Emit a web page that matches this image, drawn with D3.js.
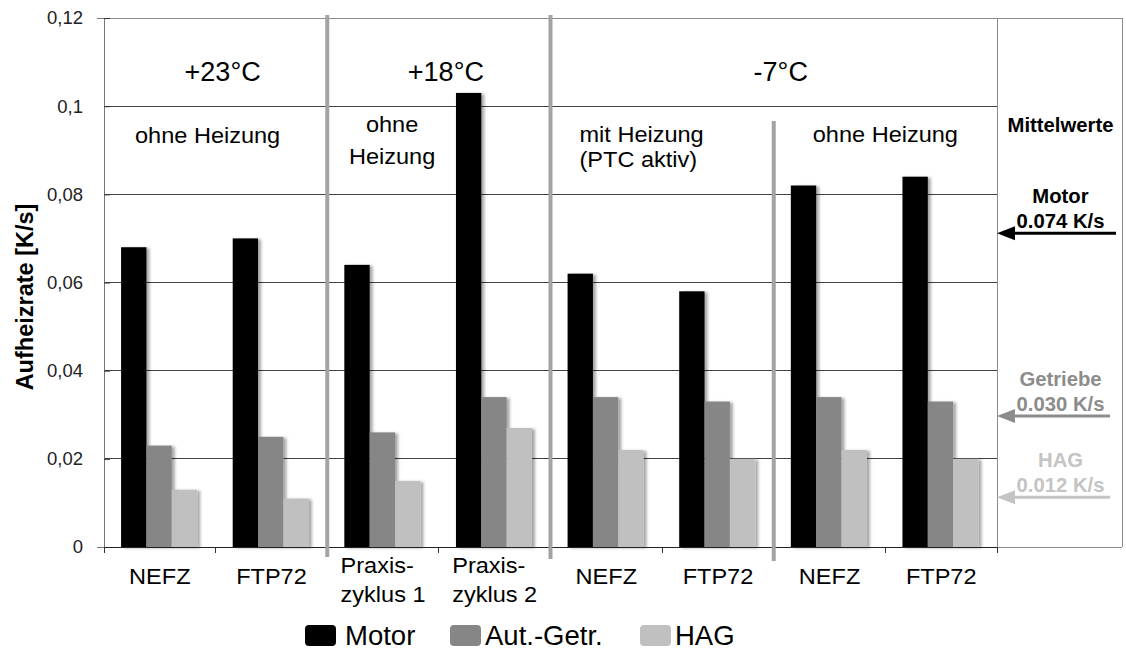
<!DOCTYPE html>
<html><head><meta charset="utf-8">
<script src="https://cdn.jsdelivr.net/npm/d3@7"></script>
<style>body{margin:0;background:#fff}svg{display:block}text{font-family:"Liberation Sans",Arial,sans-serif}</style>
</head><body><svg id="c" width="1126" height="650"></svg>
<script>
// ---- data ----
const categories = [["NEFZ"],["FTP72"],["Praxis-","zyklus 1"],["Praxis-","zyklus 2"],["NEFZ"],["FTP72"],["NEFZ"],["FTP72"]];
const seriesNames = ["Motor","Aut.-Getr.","HAG"];
const motor   = [0.068,0.070,0.064,0.103,0.062,0.058,0.082,0.084];
const autGetr = [0.023,0.025,0.026,0.034,0.034,0.033,0.034,0.033];
const hag     = [0.013,0.011,0.015,0.027,0.022,0.020,0.022,0.020];
const yTicks = [0,0.02,0.04,0.06,0.08,0.1,0.12];
const yTickLabels = ["0","0,02","0,04","0,06","0,08","0,1","0,12"];
const tempLabels = ["+23°C","+18°C","-7°C"];
const tempSpans = [[0,2],[2,4],[4,8]];
const meanNames = ["Motor","Getriebe","HAG"];
const meanValues = ["0.074 K/s","0.030 K/s","0.012 K/s"];
const meanArrowAt = [0.0712,0.0297,0.0113];

const seriesColors = ["#000000","#868686","#c0c0c0"];
const meanColors = ["#000000","#8c8c8c","#c4c4c4"];
const series = [motor, autGetr, hag];

const svg = d3.select("#c");
const FF = '"Liberation Sans",Arial,sans-serif';
const L = 104, R = 997, T = 18, B = 547, BOXR = 1122;

const x = d3.scaleBand().domain(d3.range(categories.length)).range([L, R]).padding(0);
const bw = x.bandwidth();
const x1 = d3.scaleBand().domain(d3.range(series.length)).range([0.153*bw, 0.834*bw]).padding(0);
const y = d3.scaleLinear().domain([0, 0.12]).range([B, T]);

const defs = svg.append("defs");
const f = defs.append("filter").attr("id","sh").attr("x","-20%").attr("y","-5%").attr("width","160%").attr("height","110%");
f.append("feDropShadow").attr("dx",3).attr("dy",1).attr("stdDeviation",1.6).attr("flood-color","#000").attr("flood-opacity",0.35);

function txt(g, xx, yy, s, size, opt={}) {
  const sx = opt.sx || 1.07;
  return g.append("text")
    .attr("transform", `translate(${xx},${yy}) scale(${sx},1)`)
    .attr("text-anchor", opt.anchor || "middle")
    .attr("font-size", size)
    .attr("font-weight", opt.bold ? "bold" : "normal")
    .attr("fill", opt.fill || "#000")
    .text(s);
}

// gridlines
svg.append("g").selectAll("line").data(yTicks.filter(d => d > 0)).join("line")
  .attr("x1", L).attr("x2", d => d === 0.12 ? BOXR : R)
  .attr("y1", d => y(d)).attr("y2", d => y(d))
  .attr("stroke", d => d === 0.12 ? "#8c8c8c" : "#404040").attr("stroke-width", 1).attr("shape-rendering","crispEdges");

// right box
svg.append("line").attr("x1",R).attr("x2",R).attr("y1",T).attr("y2",B).attr("stroke","#8c8c8c").attr("shape-rendering","crispEdges");
svg.append("line").attr("x1",BOXR).attr("x2",BOXR).attr("y1",T).attr("y2",B).attr("stroke","#8c8c8c").attr("shape-rendering","crispEdges");
svg.append("line").attr("x1",R).attr("x2",BOXR).attr("y1",B).attr("y2",B).attr("stroke","#8c8c8c").attr("shape-rendering","crispEdges");

// bars
const gb = svg.append("g");
series.forEach((vals, si) => {
  gb.append("g").selectAll("rect").data(vals).join("rect")
    .attr("x", (d,i) => x(i) + x1(si))
    .attr("y", d => y(d))
    .attr("width", x1.bandwidth())
    .attr("height", d => y(0) - y(d))
    .attr("fill", seriesColors[si])
    .attr("filter","url(#sh)");
});

// y axis
const ya = svg.append("g").attr("transform", `translate(${L},0)`)
  .call(d3.axisLeft(y).tickValues(yTicks).tickFormat((d,i) => yTickLabels[i]).tickSize(7).tickPadding(14));
ya.select(".domain").attr("stroke","#777");
ya.selectAll(".tick line").attr("stroke","#333").attr("x2", 6);
ya.selectAll(".tick text").attr("font-size", 18.5).attr("font-family", FF).attr("fill","#222");

// x axis
const xa = svg.append("g").attr("transform", `translate(0,${B})`)
  .call(d3.axisBottom(x).tickValues([]).tickSizeOuter(0));
xa.select(".domain").attr("stroke","#222");
svg.append("g").selectAll("line").data(d3.range(categories.length + 1)).join("line")
  .attr("x1", i => i < categories.length ? x(i) : R).attr("x2", i => i < categories.length ? x(i) : R)
  .attr("y1", B).attr("y2", B + 6).attr("stroke","#333").attr("shape-rendering","crispEdges");

// x labels (multi-line: block centered, lines left aligned)
const gx = svg.append("g");
categories.forEach((lines, i) => {
  const cx = x(i) + bw/2;
  if (lines.length === 1) {
    txt(gx, cx, 584, lines[0], 22);
  } else {
    const ts = lines.map((s, k) => txt(gx, 0, 0, s, 22, {anchor:"start"}));
    const w = d3.max(ts, t => t.node().getComputedTextLength()) * 1.07;
    ts.forEach((t, k) => t.attr("transform", `translate(${cx - w/2},${573 + k*29}) scale(1.07,1)`));
  }
});

// separators
const sep = [[2, 15, 557], [4, 15, 559], [6, 121, 561]];
svg.append("g").selectAll("line").data(sep).join("line")
  .attr("x1", d => x(d[0])).attr("x2", d => x(d[0]))
  .attr("y1", d => d[1]).attr("y2", d => d[2])
  .attr("stroke","#a3a3a3").attr("stroke-width",4);

// headers
const gh = svg.append("g");
tempLabels.forEach((t, i) => {
  const [a, b] = tempSpans[i];
  const cx = (x(a) + (b < categories.length ? x(b) : R)) / 2 + 7;
  txt(gh, cx, 81, t, 27, {sx:1.0});
});
txt(gh, x(0) + bw - 8, 143, "ohne Heizung", 22);
txt(gh, x(2) + bw/2 + 9, 132, "ohne", 22);
txt(gh, x(2) + bw/2 + 9, 164, "Heizung", 22);
txt(gh, x(4) + 29, 142, "mit Heizung", 22, {anchor:"start"});
txt(gh, x(4) + 29, 167, "(PTC aktiv)", 22, {anchor:"start"});
txt(gh, x(6) + bw, 142, "ohne Heizung", 22);

// y title
svg.append("text").attr("transform", "translate(33,297) rotate(-90)")
  .attr("text-anchor","middle").attr("font-size",23.5).attr("font-weight","bold").text("Aufheizrate [K/s]");

// right box: means
const gm = svg.append("g");
const mx = (R + BOXR) / 2 + 1;
txt(gm, mx, 132, "Mittelwerte", 19.5, {bold:true, sx:1.04});
meanNames.forEach((n, i) => {
  const ay = y(meanArrowAt[i]);
  txt(gm, mx, ay - 30, n, 19.5, {bold:true, fill:meanColors[i], sx:1.04});
  txt(gm, mx, ay - 5, meanValues[i], 19.5, {bold:true, fill:meanColors[i], sx:1.04});
  gm.append("line").attr("x1", R + 16).attr("x2", BOXR - 6 - (i>0?6:0)).attr("y1", ay).attr("y2", ay)
    .attr("stroke", meanColors[i]).attr("stroke-width", 3);
  gm.append("path").attr("d", `M${R},${ay} L${R+18},${ay-7} L${R+18},${ay+7} Z`).attr("fill", meanColors[i]);
});

// legend
const gl = svg.append("g");
const legX = [305, 450, 640];
seriesNames.forEach((n, i) => {
  gl.append("rect").attr("x", legX[i]).attr("y", 625).attr("width", 31).attr("height", 21).attr("rx", 4)
    .attr("fill", seriesColors[i]);
  gl.append("text").attr("x", legX[i] + (i === 0 ? 40 : 35)).attr("y", 645).attr("font-size", 27.5)
    .attr("fill","#000").text(n);
});
</script></body></html>
